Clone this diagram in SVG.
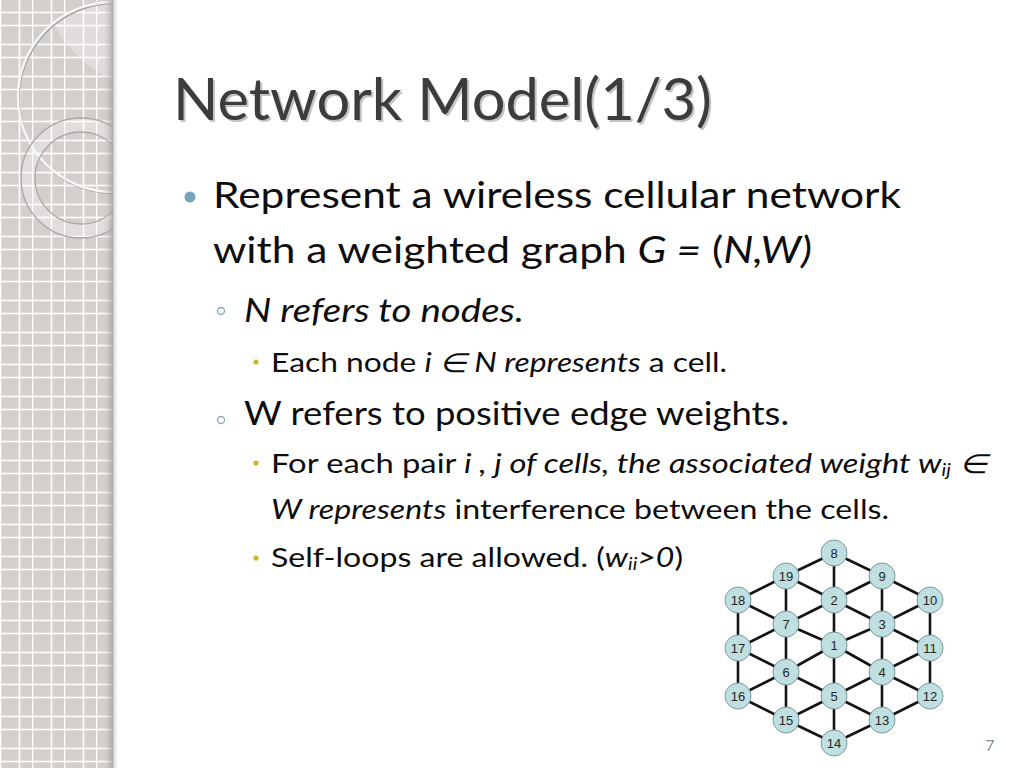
<svg xmlns="http://www.w3.org/2000/svg" width="1024" height="768" viewBox="0 0 1024 768">
<defs>
<style>
.t{font-family:Lato,"Liberation Sans",sans-serif;fill:#0d0d0d}
.it{font-style:italic}
.sub{font-size:62%}
.edge{stroke:#141414;stroke-width:2.6;stroke-linecap:round}
.node circle{fill:#bfdfe0;stroke:#7a9a9c;stroke-width:1}
.node text{font-family:"Liberation Sans",Arial,sans-serif;font-size:13px;fill:#262626;text-anchor:middle}
.gl{stroke:#ffffff;stroke-width:1.6}
</style>
<pattern id="grid" x="0" y="0" width="32" height="32" patternUnits="userSpaceOnUse">
<rect width="32" height="32" fill="#d3cfcd"/>
<line class="gl" x1="0.5" y1="0" x2="0.5" y2="32"/>
<line class="gl" x1="19.5" y1="0" x2="19.5" y2="32"/>
<line class="gl" x1="0" y1="12.5" x2="32" y2="12.5"/>
<line class="gl" x1="0" y1="25.5" x2="32" y2="25.5"/>
</pattern>
<linearGradient id="edgeShade" x1="0" y1="0" x2="1" y2="0">
<stop offset="0" stop-color="#d3cfcd" stop-opacity="0"/>
<stop offset="1" stop-color="#9e9a98" stop-opacity="0.8"/>
</linearGradient>
<linearGradient id="outShade" x1="0" y1="0" x2="1" y2="0">
<stop offset="0" stop-color="#c4c4c4"/>
<stop offset="1" stop-color="#ffffff" stop-opacity="0"/>
</linearGradient>
<clipPath id="strip"><rect x="0" y="0" width="113" height="768"/></clipPath>
<clipPath id="bigc"><circle cx="113" cy="97" r="95"/></clipPath>
</defs>
<rect width="1024" height="768" fill="#ffffff"/>
<g id="sidebar">
<rect x="0" y="0" width="113" height="768" fill="url(#grid)"/>
<g clip-path="url(#strip)">
<g clip-path="url(#bigc)">
<circle cx="175" cy="-45" r="140" fill="#ffffff" fill-opacity="0.28"/>
</g>
<circle cx="114" cy="98.5" r="95" fill="none" stroke="#a19d9b" stroke-width="1.6"/>
<circle cx="113" cy="97" r="95" fill="none" stroke="#f6f6f6" stroke-width="2.4"/>
<path d="M81,118 a60,60 0 1,0 0.01,0 Z M81,132 a46,46 0 1,1 -0.01,0 Z" fill="#ffffff" fill-opacity="0.3" fill-rule="evenodd"/>
<circle cx="81" cy="178" r="60" fill="none" stroke="#aca8a6" stroke-width="1.3"/>
<circle cx="81" cy="178" r="46" fill="none" stroke="#aca8a6" stroke-width="1.3"/>
</g>
<rect x="103" y="0" width="10" height="768" fill="url(#edgeShade)"/>
<rect x="113" y="0" width="6" height="768" fill="url(#outShade)"/>
</g>
<g id="title">
<text x="175" y="121.5" font-family="Lato,'Liberation Sans',sans-serif" font-size="58" fill="#c4c4c4" textLength="539" lengthAdjust="spacingAndGlyphs">Network Model(1/3)</text>
<text x="173" y="119.5" font-family="Lato,'Liberation Sans',sans-serif" font-size="58" fill="#3c3c3c" textLength="539" lengthAdjust="spacingAndGlyphs">Network Model(1/3)</text>
</g>
<g id="bullets">
<circle cx="190" cy="197" r="5.5" fill="#74a5bb"/>
<circle cx="221" cy="311" r="3.5" fill="none" stroke="#8aa8b6" stroke-width="1.3"/>
<circle cx="221" cy="420" r="3.5" fill="none" stroke="#8aa8b6" stroke-width="1.3"/>
<circle cx="256" cy="362" r="2.6" fill="#d2b62c"/>
<circle cx="256" cy="463" r="2.6" fill="#d2b62c"/>
<circle cx="256" cy="558" r="2.6" fill="#d2b62c"/>
</g>
<g id="text">
<text class="t" x="213" y="208" font-size="37" textLength="688" lengthAdjust="spacingAndGlyphs">Represent a wireless cellular network</text>
<text class="t" x="213" y="263" font-size="37" textLength="599" lengthAdjust="spacingAndGlyphs">with a weighted graph <tspan class="it">G =</tspan> (<tspan class="it">N,W)</tspan></text>
<text class="t it" x="244" y="322" font-size="32" textLength="280" lengthAdjust="spacingAndGlyphs">N refers to nodes.</text>
<text class="t" x="271" y="372" font-size="26.5" textLength="456" lengthAdjust="spacingAndGlyphs">Each node <tspan class="it">i ∈ N represents</tspan> a cell.</text>
<text class="t" x="244" y="425" font-size="32" textLength="545" lengthAdjust="spacingAndGlyphs">W refers to positive edge weights.</text>
<text class="t" x="271" y="473" font-size="26.5" textLength="716" lengthAdjust="spacingAndGlyphs">For each pair <tspan class="it">i , j of cells, the associated weight w<tspan class="sub" dy="3">ij</tspan><tspan dy="-3"> ∈</tspan></tspan></text>
<text class="t" x="271" y="519" font-size="26.5" textLength="618" lengthAdjust="spacingAndGlyphs"><tspan class="it">W represents</tspan> interference between the cells.</text>
<text class="t" x="271" y="567" font-size="26.5" textLength="412" lengthAdjust="spacingAndGlyphs">Self-loops are allowed. (<tspan class="it">w<tspan class="sub" dy="3">ii</tspan><tspan dy="-3">&gt;0</tspan></tspan>)</text>
<text x="990" y="751" font-family="Lato,'Liberation Sans',sans-serif" font-size="16" fill="#8c8c8c" text-anchor="middle">7</text>
</g>
<g id="connectors">
<line class="edge" x1="834" y1="553" x2="786" y2="576"/>
<line class="edge" x1="834" y1="553" x2="882" y2="576"/>
<line class="edge" x1="834" y1="553" x2="834" y2="600"/>
<line class="edge" x1="786" y1="576" x2="738" y2="600"/>
<line class="edge" x1="786" y1="576" x2="786" y2="624"/>
<line class="edge" x1="786" y1="576" x2="834" y2="600"/>
<line class="edge" x1="882" y1="576" x2="834" y2="600"/>
<line class="edge" x1="882" y1="576" x2="882" y2="624"/>
<line class="edge" x1="882" y1="576" x2="930" y2="600"/>
<line class="edge" x1="738" y1="600" x2="786" y2="624"/>
<line class="edge" x1="738" y1="600" x2="738" y2="648"/>
<line class="edge" x1="834" y1="600" x2="786" y2="624"/>
<line class="edge" x1="834" y1="600" x2="834" y2="645"/>
<line class="edge" x1="834" y1="600" x2="882" y2="624"/>
<line class="edge" x1="930" y1="600" x2="882" y2="624"/>
<line class="edge" x1="930" y1="600" x2="930" y2="648"/>
<line class="edge" x1="786" y1="624" x2="738" y2="648"/>
<line class="edge" x1="786" y1="624" x2="834" y2="645"/>
<line class="edge" x1="786" y1="624" x2="786" y2="672"/>
<line class="edge" x1="882" y1="624" x2="834" y2="645"/>
<line class="edge" x1="882" y1="624" x2="930" y2="648"/>
<line class="edge" x1="882" y1="624" x2="882" y2="672"/>
<line class="edge" x1="738" y1="648" x2="786" y2="672"/>
<line class="edge" x1="738" y1="648" x2="738" y2="696"/>
<line class="edge" x1="834" y1="645" x2="786" y2="672"/>
<line class="edge" x1="834" y1="645" x2="882" y2="672"/>
<line class="edge" x1="834" y1="645" x2="834" y2="696"/>
<line class="edge" x1="930" y1="648" x2="882" y2="672"/>
<line class="edge" x1="930" y1="648" x2="930" y2="696"/>
<line class="edge" x1="786" y1="672" x2="738" y2="696"/>
<line class="edge" x1="786" y1="672" x2="834" y2="696"/>
<line class="edge" x1="786" y1="672" x2="786" y2="720"/>
<line class="edge" x1="882" y1="672" x2="834" y2="696"/>
<line class="edge" x1="882" y1="672" x2="930" y2="696"/>
<line class="edge" x1="882" y1="672" x2="882" y2="720"/>
<line class="edge" x1="738" y1="696" x2="786" y2="720"/>
<line class="edge" x1="834" y1="696" x2="786" y2="720"/>
<line class="edge" x1="834" y1="696" x2="882" y2="720"/>
<line class="edge" x1="834" y1="696" x2="834" y2="743"/>
<line class="edge" x1="930" y1="696" x2="882" y2="720"/>
<line class="edge" x1="786" y1="720" x2="834" y2="743"/>
<line class="edge" x1="882" y1="720" x2="834" y2="743"/>
</g>
<g id="n8" class="node"><circle cx="834" cy="553" r="13"/><text x="834" y="557.5">8</text></g>
<g id="n19" class="node"><circle cx="786" cy="576" r="13"/><text x="786" y="580.5">19</text></g>
<g id="n9" class="node"><circle cx="882" cy="576" r="13"/><text x="882" y="580.5">9</text></g>
<g id="n18" class="node"><circle cx="738" cy="600" r="13"/><text x="738" y="604.5">18</text></g>
<g id="n2" class="node"><circle cx="834" cy="600" r="13"/><text x="834" y="604.5">2</text></g>
<g id="n10" class="node"><circle cx="930" cy="600" r="13"/><text x="930" y="604.5">10</text></g>
<g id="n7" class="node"><circle cx="786" cy="624" r="13"/><text x="786" y="628.5">7</text></g>
<g id="n3" class="node"><circle cx="882" cy="624" r="13"/><text x="882" y="628.5">3</text></g>
<g id="n17" class="node"><circle cx="738" cy="648" r="13"/><text x="738" y="652.5">17</text></g>
<g id="n1" class="node"><circle cx="834" cy="645" r="13"/><text x="834" y="649.5">1</text></g>
<g id="n11" class="node"><circle cx="930" cy="648" r="13"/><text x="930" y="652.5">11</text></g>
<g id="n6" class="node"><circle cx="786" cy="672" r="13"/><text x="786" y="676.5">6</text></g>
<g id="n4" class="node"><circle cx="882" cy="672" r="13"/><text x="882" y="676.5">4</text></g>
<g id="n16" class="node"><circle cx="738" cy="696" r="13"/><text x="738" y="700.5">16</text></g>
<g id="n5" class="node"><circle cx="834" cy="696" r="13"/><text x="834" y="700.5">5</text></g>
<g id="n12" class="node"><circle cx="930" cy="696" r="13"/><text x="930" y="700.5">12</text></g>
<g id="n15" class="node"><circle cx="786" cy="720" r="13"/><text x="786" y="724.5">15</text></g>
<g id="n13" class="node"><circle cx="882" cy="720" r="13"/><text x="882" y="724.5">13</text></g>
<g id="n14" class="node"><circle cx="834" cy="743" r="13"/><text x="834" y="747.5">14</text></g>
</svg>
